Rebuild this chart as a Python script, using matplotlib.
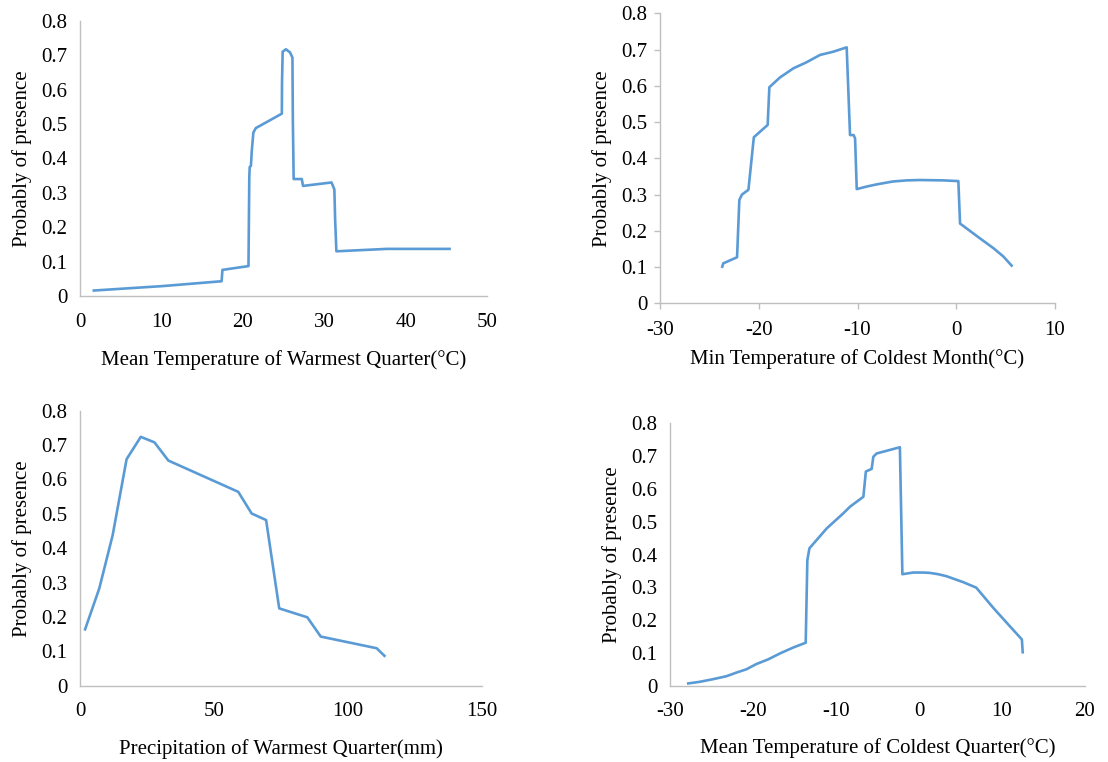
import matplotlib
matplotlib.use("Agg")
import matplotlib.pyplot as plt

plt.rcParams["font.family"] = ["Liberation Serif", "DejaVu Serif"]
plt.rcParams["font.size"] = 15

LINE = "#5B9BD5"
SPINE = "#BFBFBF"

# Mean Temperature of Warmest Quarter
warm_t = [1.7, 10.2, 17.4, 17.5, 20.7, 20.75, 20.8, 20.85, 21.0, 21.1, 21.3, 21.6, 24.8, 24.82, 24.9, 25.3,
          25.8, 26.1, 26.15, 26.25, 27.25, 27.4, 30.9, 31.25, 31.35, 31.5, 37.7, 45.4]
warm_p = [0.016, 0.029, 0.043, 0.076, 0.087, 0.22, 0.345, 0.375, 0.378, 0.42, 0.475, 0.488, 0.53, 0.62, 0.71,
          0.717, 0.708, 0.693, 0.514, 0.34, 0.34, 0.32, 0.33, 0.31, 0.22, 0.13, 0.137, 0.137]

# Min Temperature of Coldest Month
cmin_t = [-23.7, -23.6, -22.2, -21.97, -21.7, -21.05, -20.6, -20.5, -19.1, -18.93, -17.85, -16.5, -15.15,
          -13.8, -12.45, -11.1, -10.76, -10.4, -10.25, -10.08, -9.07, -8.06, -6.4, -5.0, -3.67, -1.3, 0.21,
          0.38, 2.4, 3.76, 4.77, 5.6]
cmin_p = [0.101, 0.11, 0.127, 0.285, 0.30, 0.313, 0.432, 0.458, 0.492, 0.596, 0.623, 0.648, 0.665,
          0.685, 0.694, 0.706, 0.464, 0.464, 0.455, 0.315, 0.322, 0.328, 0.336, 0.339, 0.340, 0.339, 0.337,
          0.22, 0.179, 0.152, 0.129, 0.104]

# Precipitation of Warmest Quarter
prec_x = [1.9, 7.2, 12.2, 17.4, 22.7, 27.8, 33.0, 59.1, 64.1, 69.5, 74.4, 84.9, 89.9, 110.8, 113.7]
prec_p = [0.164, 0.283, 0.438, 0.659, 0.724, 0.708, 0.655, 0.564, 0.501, 0.482, 0.225, 0.199, 0.143, 0.109, 0.087]

# Mean Temperature of Coldest Quarter
cq_t = [-27.8, -26.4, -24.8, -23.2, -22.0, -20.8, -19.6, -18.2, -16.7, -15.1, -13.65, -13.45, -13.2,
        -11.1, -9.1, -8.3, -6.7, -6.4, -5.7, -5.5, -5.1, -2.3, -2.0, -0.7, 0.5, 1.3, 2.3, 3.3, 4.3, 5.3,
        6.9, 9.0, 11.0, 12.4, 12.5]
cq_p = [0.007, 0.012, 0.02, 0.029, 0.040, 0.050, 0.066, 0.080, 0.099, 0.117, 0.131, 0.383, 0.419,
        0.48, 0.526, 0.546, 0.576, 0.653, 0.661, 0.698, 0.708, 0.727, 0.340, 0.345, 0.345, 0.344, 0.340,
        0.334, 0.325, 0.316, 0.299, 0.236, 0.18, 0.141, 0.102]

y_ticks = [0, 0.1, 0.2, 0.3, 0.4, 0.5, 0.6, 0.7, 0.8]
y_labels = ["0", "0.1", "0.2", "0.3", "0.4", "0.5", "0.6", "0.7", "0.8"]

panels = [
    dict(rect=[0.0722, 0.6115, 0.3673, 0.3613], x=warm_t, y=warm_p, xlim=(0, 50), xt=[0, 10, 20, 30, 40, 50],
         xlabel="Mean Temperature of Warmest Quarter(°C)", ticks=False, xpad=13),
    dict(rect=[0.5957, 0.6020, 0.3565, 0.3806], x=cmin_t, y=cmin_p, xlim=(-30, 10), xt=[-30, -20, -10, 0, 10],
         xlabel="Min Temperature of Coldest Month(°C)", ticks=True, xpad=6),
    dict(rect=[0.0722, 0.1001, 0.3625, 0.3609], x=prec_x, y=prec_p, xlim=(0, 150), xt=[0, 50, 100, 150],
         xlabel="Precipitation of Warmest Quarter(mm)", ticks=False, xpad=13),
    dict(rect=[0.6047, 0.1001, 0.3745, 0.3444], x=cq_t, y=cq_p, xlim=(-30, 20), xt=[-30, -20, -10, 0, 10, 20],
         xlabel="Mean Temperature of Coldest Quarter(°C)", ticks=False, xpad=12),
]

fig = plt.figure(figsize=(11.08, 7.62), dpi=100)

for p in panels:
    ax = fig.add_axes(p["rect"])
    ax.plot(p["x"], p["y"], color=LINE, linewidth=1.9, solid_joinstyle="round")
    ax.set_xlim(*p["xlim"])
    ax.set_ylim(0, 0.8)
    ax.set_xticks(p["xt"])
    ax.set_xticklabels([str(v) for v in p["xt"]])
    ax.set_yticks(y_ticks)
    ax.set_yticklabels(y_labels)
    for side in ("top", "right"):
        ax.spines[side].set_visible(False)
    for side in ("left", "bottom"):
        ax.spines[side].set_color(SPINE)
        ax.spines[side].set_linewidth(1.0)
    if p["ticks"]:
        ax.tick_params(axis="both", direction="out", length=4, width=1, color=SPINE)
        ax.tick_params(axis="x", pad=9)
        ax.tick_params(axis="y", pad=5)
    else:
        ax.tick_params(axis="both", length=0)
        ax.tick_params(axis="x", pad=12)
        ax.tick_params(axis="y", pad=9)
    ax.set_xlabel(p["xlabel"], labelpad=p["xpad"])
    ax.set_ylabel("Probably of presence", labelpad=7)
    ax.patch.set_alpha(0)

fig.savefig("out.png", dpi=100)
